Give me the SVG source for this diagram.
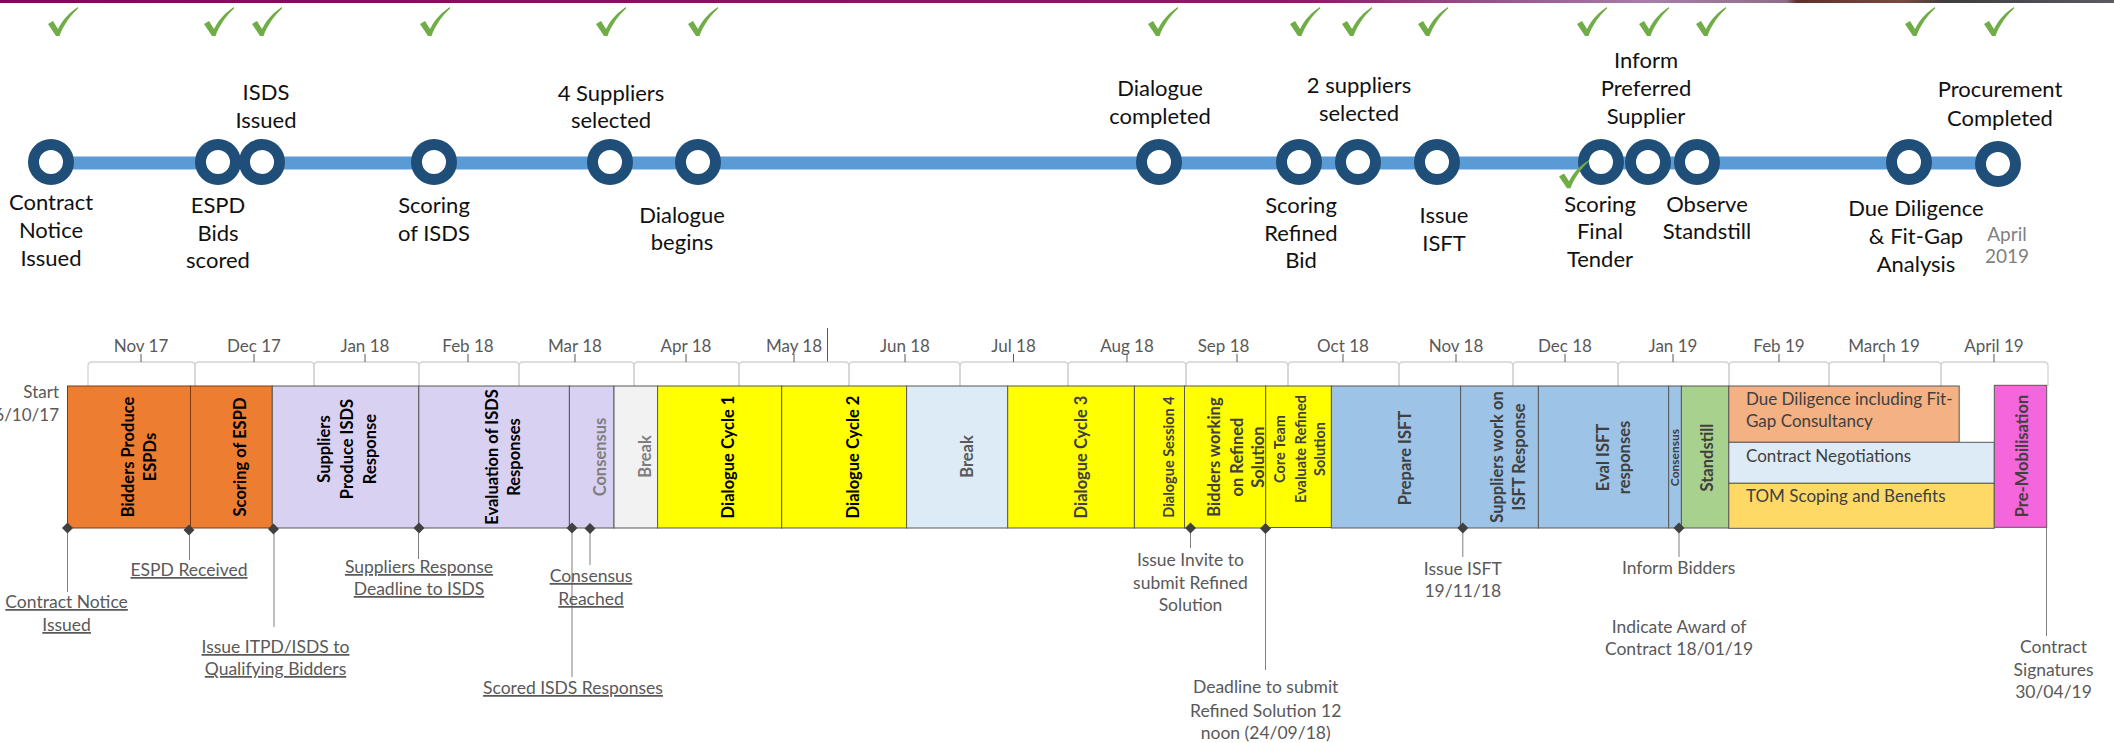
<svg xmlns="http://www.w3.org/2000/svg" width="2114" height="743" viewBox="0 0 2114 743">
  <defs>
    <linearGradient id="topband" x1="0" y1="0" x2="2114" y2="0" gradientUnits="userSpaceOnUse">
      <stop offset="0" stop-color="#7e0a5c"/>
      <stop offset="0.62" stop-color="#8a1d66"/>
      <stop offset="0.78" stop-color="#a77ea9"/>
      <stop offset="0.845" stop-color="#8c6f86"/>
      <stop offset="0.85" stop-color="#5e2f2c"/>
      <stop offset="0.9" stop-color="#7a4a40"/>
      <stop offset="0.92" stop-color="#3d3d3f"/>
      <stop offset="1" stop-color="#5a5c60"/>
    </linearGradient>
    <path id="tick" d="M0,17 L5,14 L10,22 C15,12 22,5 30,0 L30,1.5 C22,9 15,19 11.5,29 L8,29 Z" fill="#70ad47"/>
    <path id="dia" d="M0,-5.5 L5.5,0 L0,5.5 L-5.5,0 Z" fill="#404040"/>
  </defs>
  <style>
    text { font-family: Lato, "Liberation Sans", sans-serif; }
    .lbl { font-size: 22px; fill: #111; text-anchor: middle; }
    .yr { font-size: 19px; fill: #7f7f7f; text-anchor: middle; }
    .mon { font-size: 17px; fill: #595959; text-anchor: middle; }
    .note { font-size: 17.5px; fill: #595959; text-anchor: middle; }
    .u { text-decoration: underline; }
    .bar { font-size: 16.5px; font-weight: 700; text-anchor: middle; }
    .hz { font-size: 17px; fill: #404040; }
    .ring { fill: #fff; stroke: #1f4e79; stroke-width: 11; }
    .brk { fill: none; stroke: #d3d3d3; stroke-width: 1.3; }
    .mt { stroke: #595959; stroke-width: 1; }
    .lead { stroke: #808080; stroke-width: 1; fill: none; }
    .box { stroke: #595959; stroke-width: 1; }
    .org { fill: #ed7d31; stroke: #7a3a12; stroke-width: 1; }
    .lav { fill: #d9d1f1; }
    .gry { fill: #f2f2f2; }
    .yel { fill: #ffff00; }
    .lbl2 { fill: #ddebf7; }
    .blu { fill: #9dc3e6; }
    .grn { fill: #a9d18e; }
    .sal { fill: #f4b183; }
    .gold { fill: #ffd966; }
    .pink { fill: #f565dc; }
    .k { fill: #000; }
    .d { fill: #404040; }
    .m { fill: #7f7f7f; }
    .s { fill: #595959; }
  </style>

  <rect width="2114" height="743" fill="#fff"/>
  <rect x="0" y="0" width="2114" height="3" fill="url(#topband)"/>

  <!-- completion ticks above the milestones -->
  <g id="ticks">
    <use href="#tick" x="48" y="7"/>
    <use href="#tick" x="204" y="7"/>
    <use href="#tick" x="252" y="7"/>
    <use href="#tick" x="420" y="7"/>
    <use href="#tick" x="596" y="7"/>
    <use href="#tick" x="688" y="7"/>
    <use href="#tick" x="1148" y="7"/>
    <use href="#tick" x="1290" y="7"/>
    <use href="#tick" x="1342" y="7"/>
    <use href="#tick" x="1418" y="7"/>
    <use href="#tick" x="1577" y="7"/>
    <use href="#tick" x="1639" y="7"/>
    <use href="#tick" x="1696" y="7"/>
    <use href="#tick" x="1905" y="7"/>
    <use href="#tick" x="1984" y="7"/>
  </g>

  <!-- connectors: milestone line and leader lines of the gantt markers -->
  <g id="connectors">
    <line x1="51" y1="163" x2="1998" y2="163" stroke="#5b9bd5" stroke-width="13"/>
    <line class="mt" x1="827.5" y1="328" x2="827.5" y2="362" stroke="#7f7f7f"/>
    <line class="lead" x1="67.5" y1="533" x2="67.5" y2="592"/>
    <line class="lead" x1="189.5" y1="535" x2="189.5" y2="560"/>
    <line class="lead" x1="274" y1="534" x2="274" y2="627"/>
    <line class="lead" x1="418.5" y1="533" x2="418.5" y2="559"/>
    <line class="lead" x1="572" y1="533" x2="572" y2="677"/>
    <line class="lead" x1="590" y1="533" x2="590" y2="565"/>
    <line class="lead" x1="1190.5" y1="533" x2="1190.5" y2="548"/>
    <line class="lead" x1="1265.5" y1="533" x2="1265.5" y2="670"/>
    <line class="lead" x1="1462.8" y1="533" x2="1462.8" y2="557"/>
    <line class="lead" x1="1679" y1="533" x2="1679" y2="557"/>
    <line class="lead" x1="2046.5" y1="527" x2="2046.5" y2="636"/>
  </g>

  <!-- milestones -->
  <g id="m-contract-notice">
    <circle class="ring" cx="51" cy="162" r="17.5"/>
    <text class="lbl"><tspan x="51" y="210">Contract</tspan><tspan x="51" y="238">Notice</tspan><tspan x="51" y="266">Issued</tspan></text>
  </g>
  <g id="m-espd-scored">
    <circle class="ring" cx="218" cy="162" r="17.5"/>
    <text class="lbl"><tspan x="218" y="213">ESPD</tspan><tspan x="218" y="241">Bids</tspan><tspan x="218" y="268">scored</tspan></text>
  </g>
  <g id="m-isds-issued">
    <circle class="ring" cx="262" cy="162" r="17.5"/>
    <text class="lbl"><tspan x="266" y="100">ISDS</tspan><tspan x="266" y="128">Issued</tspan></text>
  </g>
  <g id="m-scoring-isds">
    <circle class="ring" cx="434" cy="162" r="17.5"/>
    <text class="lbl"><tspan x="434" y="213">Scoring</tspan><tspan x="434" y="241">of ISDS</tspan></text>
  </g>
  <g id="m-four-suppliers">
    <circle class="ring" cx="610" cy="162" r="17.5"/>
    <text class="lbl"><tspan x="611" y="101">4 Suppliers</tspan><tspan x="611" y="128">selected</tspan></text>
  </g>
  <g id="m-dialogue-begins">
    <circle class="ring" cx="698" cy="162" r="17.5"/>
    <text class="lbl"><tspan x="682" y="223">Dialogue</tspan><tspan x="682" y="250">begins</tspan></text>
  </g>
  <g id="m-dialogue-completed">
    <circle class="ring" cx="1159" cy="162" r="17.5"/>
    <text class="lbl"><tspan x="1160" y="96">Dialogue</tspan><tspan x="1160" y="124">completed</tspan></text>
  </g>
  <g id="m-scoring-refined">
    <circle class="ring" cx="1299" cy="162" r="17.5"/>
    <text class="lbl"><tspan x="1301" y="213">Scoring</tspan><tspan x="1301" y="241">Refined</tspan><tspan x="1301" y="268">Bid</tspan></text>
  </g>
  <g id="m-two-suppliers">
    <circle class="ring" cx="1358" cy="162" r="17.5"/>
    <text class="lbl"><tspan x="1359" y="93">2 suppliers</tspan><tspan x="1359" y="121">selected</tspan></text>
  </g>
  <g id="m-issue-isft">
    <circle class="ring" cx="1437" cy="162" r="17.5"/>
    <text class="lbl"><tspan x="1444" y="223">Issue</tspan><tspan x="1444" y="251">ISFT</tspan></text>
  </g>
  <g id="m-scoring-final">
    <circle class="ring" cx="1601" cy="162" r="17.5"/>
    <use href="#tick" x="1559" y="160" transform="translate(1559 160) scale(1 0.97) translate(-1559 -160)"/>
    <text class="lbl"><tspan x="1600" y="212">Scoring</tspan><tspan x="1600" y="239">Final</tspan><tspan x="1600" y="267">Tender</tspan></text>
  </g>
  <g id="m-inform-preferred">
    <circle class="ring" cx="1648" cy="162" r="17.5"/>
    <text class="lbl"><tspan x="1646" y="68">Inform</tspan><tspan x="1646" y="96">Preferred</tspan><tspan x="1646" y="124">Supplier</tspan></text>
  </g>
  <g id="m-standstill">
    <circle class="ring" cx="1697" cy="162" r="17.5"/>
    <text class="lbl"><tspan x="1707" y="212">Observe</tspan><tspan x="1707" y="239">Standstill</tspan></text>
  </g>
  <g id="m-due-diligence">
    <circle class="ring" cx="1909" cy="162" r="17.5"/>
    <text class="lbl"><tspan x="1916" y="216">Due Diligence</tspan><tspan x="1916" y="244">&amp; Fit-Gap</tspan><tspan x="1916" y="272">Analysis</tspan></text>
  </g>
  <g id="m-procurement-completed">
    <circle class="ring" cx="1998" cy="164" r="17.5"/>
    <text class="lbl"><tspan x="2000" y="97">Procurement</tspan><tspan x="2000" y="126">Completed</tspan></text>
    <text class="yr"><tspan x="2007" y="241">April</tspan><tspan x="2007" y="263">2019</tspan></text>
  </g>

  <!-- month scale -->
  <g id="months">
    <path class="brk" d="M88,386V366Q88,362 92,362H191Q195,362 195,366V386"/>
    <path class="brk" d="M195,386V366Q195,362 199,362H310Q314,362 314,366V386"/>
    <path class="brk" d="M314,386V366Q314,362 318,362H415Q419,362 419,366V386"/>
    <path class="brk" d="M419,386V366Q419,362 423,362H515Q519,362 519,366V386"/>
    <path class="brk" d="M519,386V366Q519,362 523,362H630Q634,362 634,366V386"/>
    <path class="brk" d="M634,386V366Q634,362 638,362H735Q739,362 739,366V386"/>
    <path class="brk" d="M739,386V366Q739,362 743,362H845Q849,362 849,366V386"/>
    <path class="brk" d="M849,386V366Q849,362 853,362H956Q960,362 960,366V386"/>
    <path class="brk" d="M960,386V366Q960,362 964,362H1064Q1068,362 1068,366V386"/>
    <path class="brk" d="M1068,386V366Q1068,362 1072,362H1182Q1186,362 1186,366V386"/>
    <path class="brk" d="M1186,386V366Q1186,362 1190,362H1284Q1288,362 1288,366V386"/>
    <path class="brk" d="M1288,386V366Q1288,362 1292,362H1395Q1399,362 1399,366V386"/>
    <path class="brk" d="M1399,386V366Q1399,362 1403,362H1509Q1513,362 1513,366V386"/>
    <path class="brk" d="M1513,386V366Q1513,362 1517,362H1614Q1618,362 1618,366V386"/>
    <path class="brk" d="M1618,386V366Q1618,362 1622,362H1725Q1729,362 1729,366V386"/>
    <path class="brk" d="M1729,386V366Q1729,362 1733,362H1825Q1829,362 1829,366V386"/>
    <path class="brk" d="M1829,386V366Q1829,362 1833,362H1937Q1941,362 1941,366V386"/>
    <path class="brk" d="M1941,386V366Q1941,362 1945,362H2044Q2048,362 2048,366V386"/>
    <g class="mt">
      <line x1="141" y1="354" x2="141" y2="362"/>
      <line x1="254" y1="354" x2="254" y2="362"/>
      <line x1="365" y1="354" x2="365" y2="362"/>
      <line x1="468" y1="354" x2="468" y2="362"/>
      <line x1="575" y1="354" x2="575" y2="362"/>
      <line x1="686" y1="354" x2="686" y2="362"/>
      <line x1="794" y1="354" x2="794" y2="362"/>
      <line x1="905" y1="354" x2="905" y2="362"/>
      <line x1="1013.5" y1="354" x2="1013.5" y2="362"/>
      <line x1="1127" y1="354" x2="1127" y2="362"/>
      <line x1="1237" y1="354" x2="1237" y2="362"/>
      <line x1="1343" y1="354" x2="1343" y2="362"/>
      <line x1="1456" y1="354" x2="1456" y2="362"/>
      <line x1="1565" y1="354" x2="1565" y2="362"/>
      <line x1="1673" y1="354" x2="1673" y2="362"/>
      <line x1="1779" y1="354" x2="1779" y2="362"/>
      <line x1="1884" y1="354" x2="1884" y2="362"/>
      <line x1="1994" y1="354" x2="1994" y2="362"/>
    </g>
    <text class="mon" x="141" y="352">Nov 17</text>
    <text class="mon" x="254" y="352">Dec 17</text>
    <text class="mon" x="365" y="352">Jan 18</text>
    <text class="mon" x="468" y="352">Feb 18</text>
    <text class="mon" x="575" y="352">Mar 18</text>
    <text class="mon" x="686" y="352">Apr 18</text>
    <text class="mon" x="794" y="352">May 18</text>
    <text class="mon" x="905" y="352">Jun 18</text>
    <text class="mon" x="1013.5" y="352">Jul 18</text>
    <text class="mon" x="1127" y="352">Aug 18</text>
    <text class="mon" x="1223.5" y="352">Sep 18</text>
    <text class="mon" x="1343" y="352">Oct 18</text>
    <text class="mon" x="1456" y="352">Nov 18</text>
    <text class="mon" x="1565" y="352">Dec 18</text>
    <text class="mon" x="1673" y="352">Jan 19</text>
    <text class="mon" x="1779" y="352">Feb 19</text>
    <text class="mon" x="1884" y="352">March 19</text>
    <text class="mon" x="1994" y="352">April 19</text>
    <text class="mon" style="text-anchor:end"><tspan x="59" y="398">Start</tspan><tspan x="59" y="421">6/10/17</tspan></text>
  </g>

  <!-- gantt bars -->
  <g id="t-bidders-espd">
    <rect class="org" x="67.5" y="386" width="123" height="142"/>
    <text class="bar k" transform="translate(0 457) rotate(-90)"><tspan x="0" y="133.5">Bidders Produce</tspan><tspan x="0" y="155.5">ESPDs</tspan></text>
  </g>
  <g id="t-scoring-espd">
    <rect class="org" x="190.5" y="386" width="81.8" height="142"/>
    <text class="bar k" transform="translate(0 457) rotate(-90)"><tspan x="0" y="246">Scoring of ESPD</tspan></text>
  </g>
  <g id="t-suppliers-isds">
    <rect class="box lav" x="272.3" y="386" width="146.5" height="142"/>
    <text class="bar k" transform="translate(0 449) rotate(-90)"><tspan x="0" y="330">Suppliers</tspan><tspan x="0" y="353">Produce ISDS</tspan><tspan x="0" y="376">Response</tspan></text>
  </g>
  <g id="t-eval-isds">
    <rect class="box lav" x="418.8" y="386" width="150.6" height="142"/>
    <text class="bar k" transform="translate(0 457) rotate(-90)"><tspan x="0" y="497.5">Evaluation of ISDS</tspan><tspan x="0" y="520">Responses</tspan></text>
  </g>
  <g id="t-consensus-1">
    <rect class="box lav" x="569.4" y="386" width="44.6" height="142"/>
    <text class="bar m" transform="translate(0 457) rotate(-90)"><tspan x="0" y="606">Consensus</tspan></text>
  </g>
  <g id="t-break-1">
    <rect class="box gry" x="614" y="386" width="43.6" height="142"/>
    <text class="bar m" transform="translate(0 456.5) rotate(-90)"><tspan x="0" y="650.5">Break</tspan></text>
  </g>
  <g id="t-dialogue-1">
    <rect class="box yel" x="657.6" y="386" width="124.1" height="142"/>
    <text class="bar k" transform="translate(0 457) rotate(-90)"><tspan x="0" y="733.5">Dialogue Cycle 1</tspan></text>
  </g>
  <g id="t-dialogue-2">
    <rect class="box yel" x="781.7" y="386" width="124.9" height="142"/>
    <text class="bar k" transform="translate(0 457) rotate(-90)"><tspan x="0" y="858.5">Dialogue Cycle 2</tspan></text>
  </g>
  <g id="t-break-2">
    <rect class="box lbl2" x="906.6" y="386" width="101.1" height="142"/>
    <text class="bar s" transform="translate(0 456.5) rotate(-90)"><tspan x="0" y="972.5">Break</tspan></text>
  </g>
  <g id="t-dialogue-3">
    <rect class="box yel" x="1007.7" y="386" width="126.7" height="142"/>
    <text class="bar d" transform="translate(0 457) rotate(-90)"><tspan x="0" y="1086.5">Dialogue Cycle 3</tspan></text>
  </g>
  <g id="t-dialogue-4">
    <rect class="box yel" x="1134.4" y="386" width="50.1" height="142"/>
    <text class="bar d" style="font-size:14.5px" transform="translate(0 457) rotate(-90)"><tspan x="0" y="1173.5">Dialogue Session 4</tspan></text>
  </g>
  <g id="t-bidders-refined">
    <rect class="box yel" x="1184.5" y="386" width="81.2" height="142"/>
    <text class="bar d" transform="translate(0 457) rotate(-90)"><tspan x="0" y="1219.5">Bidders working</tspan><tspan x="0" y="1242.5">on Refined</tspan><tspan x="0" y="1264">Solution</tspan></text>
  </g>
  <g id="t-core-team">
    <rect class="box yel" x="1265.7" y="386" width="65.7" height="141.5"/>
    <text class="bar d" style="font-size:14.5px" transform="translate(0 449) rotate(-90)"><tspan x="0" y="1285">Core Team</tspan><tspan x="0" y="1305.5">Evaluate Refined</tspan><tspan x="0" y="1325">Solution</tspan></text>
  </g>
  <g id="t-prepare-isft">
    <rect class="box blu" x="1331.4" y="386" width="129.2" height="142"/>
    <text class="bar d" transform="translate(0 458) rotate(-90)"><tspan x="0" y="1410.5">Prepare ISFT</tspan></text>
  </g>
  <g id="t-suppliers-isft">
    <rect class="box blu" x="1460.6" y="386" width="77.8" height="142"/>
    <text class="bar d" transform="translate(0 457) rotate(-90)"><tspan x="0" y="1502.5">Suppliers work on</tspan><tspan x="0" y="1525">ISFT Response</tspan></text>
  </g>
  <g id="t-eval-isft">
    <rect class="box blu" x="1538.4" y="386" width="130.3" height="142"/>
    <text class="bar d" transform="translate(0 457.5) rotate(-90)"><tspan x="0" y="1608.5">Eval ISFT</tspan><tspan x="0" y="1630">responses</tspan></text>
  </g>
  <g id="t-consensus-2">
    <rect class="box blu" x="1668.7" y="386" width="12.7" height="142"/>
    <text class="bar d" style="font-size:12px" transform="translate(0 457.5) rotate(-90)"><tspan x="0" y="1679">Consensus</tspan></text>
  </g>
  <g id="t-standstill">
    <rect class="box grn" x="1681.4" y="386" width="47.4" height="142"/>
    <text class="bar d" transform="translate(0 457.5) rotate(-90)"><tspan x="0" y="1712.5">Standstill</tspan></text>
  </g>
  <g id="t-due-diligence">
    <rect class="box sal" x="1728.8" y="386" width="230.4" height="56.3"/>
    <text class="hz"><tspan x="1746" y="405">Due Diligence including Fit-</tspan><tspan x="1746" y="427">Gap Consultancy</tspan></text>
  </g>
  <g id="t-contract-negotiations">
    <rect class="box lbl2" x="1728.8" y="442.3" width="265.5" height="41"/>
    <text class="hz" x="1746" y="461.7">Contract Negotiations</text>
  </g>
  <g id="t-tom-scoping">
    <rect class="box gold" x="1728.8" y="483.3" width="265.5" height="45"/>
    <text class="hz" x="1746" y="501.7">TOM Scoping and Benefits</text>
  </g>
  <g id="t-pre-mobilisation">
    <rect class="box pink" x="1994.3" y="385.3" width="52.4" height="142"/>
    <text class="bar d" transform="translate(0 456) rotate(-90)"><tspan x="0" y="2028">Pre-Mobilisation</tspan></text>
  </g>

  <!-- gantt markers and their notes -->
  <g id="k-contract-notice">
    <use href="#dia" x="67.5" y="528"/>
    <text class="note u"><tspan x="66.6" y="608">Contract Notice</tspan><tspan x="66.6" y="631">Issued</tspan></text>
  </g>
  <g id="k-espd-received">
    <use href="#dia" x="189" y="530"/>
    <text class="note u" x="189" y="576">ESPD Received</text>
  </g>
  <g id="k-issue-itpd">
    <use href="#dia" x="273.5" y="529"/>
    <text class="note u"><tspan x="275.5" y="653">Issue ITPD/ISDS to</tspan><tspan x="275.5" y="675">Qualifying Bidders</tspan></text>
  </g>
  <g id="k-suppliers-deadline">
    <use href="#dia" x="419" y="528"/>
    <text class="note u"><tspan x="419" y="573">Suppliers Response</tspan><tspan x="419" y="595">Deadline to ISDS</tspan></text>
  </g>
  <g id="k-scored-isds">
    <use href="#dia" x="572" y="528"/>
    <text class="note u" x="573" y="694">Scored ISDS Responses</text>
  </g>
  <g id="k-consensus-reached">
    <use href="#dia" x="590" y="528.5"/>
    <text class="note u"><tspan x="591" y="582">Consensus</tspan><tspan x="591" y="605">Reached</tspan></text>
  </g>
  <g id="k-issue-invite">
    <use href="#dia" x="1190.5" y="528"/>
    <text class="note"><tspan x="1190.5" y="566">Issue Invite to</tspan><tspan x="1190.5" y="589">submit Refined</tspan><tspan x="1190.5" y="611">Solution</tspan></text>
  </g>
  <g id="k-refined-deadline">
    <use href="#dia" x="1265.5" y="528.5"/>
    <text class="note"><tspan x="1265.7" y="693">Deadline to submit</tspan><tspan x="1265.7" y="717">Refined Solution 12</tspan><tspan x="1265.7" y="739">noon (24/09/18)</tspan></text>
  </g>
  <g id="k-issue-isft">
    <use href="#dia" x="1462.8" y="528"/>
    <text class="note"><tspan x="1462.8" y="575">Issue ISFT</tspan><tspan x="1462.8" y="597">19/11/18</tspan></text>
  </g>
  <g id="k-inform-bidders">
    <use href="#dia" x="1679" y="528"/>
    <text class="note" x="1678.7" y="574">Inform Bidders</text>
    <text class="note"><tspan x="1679" y="633">Indicate Award of</tspan><tspan x="1679" y="655">Contract 18/01/19</tspan></text>
  </g>
  <g id="k-contract-signatures">
    <text class="note"><tspan x="2053.5" y="653">Contract</tspan><tspan x="2053.5" y="676">Signatures</tspan><tspan x="2053.5" y="698">30/04/19</tspan></text>
  </g>
</svg>
